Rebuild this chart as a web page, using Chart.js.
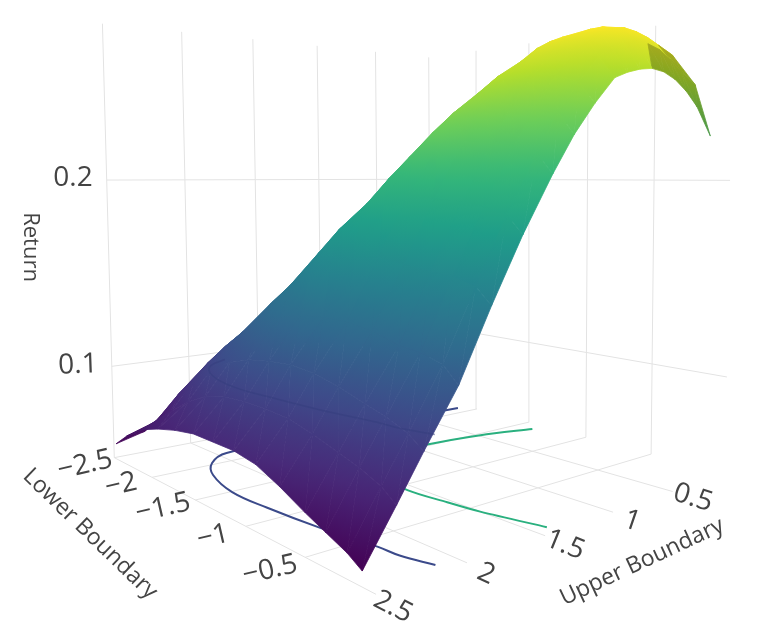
<!DOCTYPE html>
<html>
<head>
<meta charset="utf-8">
<title>Return surface</title>
<style>
html, body { margin: 0; background: #fff; }
canvas { display: block; }
</style>
<script src="https://cdn.jsdelivr.net/npm/chart.js@4"></script>
</head>
<body>
<canvas id="surfaceChart" width="761" height="640"></canvas>
<script>
'use strict';

const LOWER_VALUES = [-2.4, -2.25, -2.05, -1.85, -1.65, -1.45, -1.25, -1.05, -0.85, -0.65, -0.45, -0.3, -0.15, -0.05];
const UPPER_VALUES = [0.12, 0.25, 0.35, 0.45, 0.55, 0.65, 0.75, 0.85, 0.95, 1.1, 1.25, 1.4, 1.6, 1.8, 2.0, 2.2, 2.35, 2.53];

// one row per upper boundary, one column per lower boundary
const RETURN_ROWS = [
  [.079, .091, .110, .134, .161, .187, .214, .234, .250, .259, .265, .264, .248, .222],
  [.083, .096, .117, .141, .167, .193, .219, .241, .257, .268, .272, .268, .254, .236],
  [.086, .099, .121, .146, .172, .198, .224, .246, .262, .272, .275, .271, .259, .243],
  [.089, .102, .124, .150, .176, .202, .227, .248, .264, .273, .276, .273, .263, .248],
  [.091, .104, .126, .153, .179, .204, .228, .248, .264, .273, .276, .274, .265, .251],
  [.093, .106, .128, .155, .181, .206, .229, .248, .263, .272, .274, .273, .266, .252],
  [.095, .108, .130, .156, .182, .207, .229, .247, .260, .269, .271, .270, .264, .251],
  [.097, .110, .131, .157, .183, .207, .228, .245, .256, .265, .267, .266, .261, .249],
  [.098, .111, .132, .158, .183, .206, .226, .242, .252, .259, .261, .260, .256, .246],
  [.100, .113, .134, .158, .181, .202, .220, .234, .243, .248, .249, .248, .244, .234],
  [.101, .114, .134, .156, .177, .196, .212, .224, .231, .235, .235, .233, .230, .220],
  [.101, .114, .133, .153, .172, .188, .201, .211, .216, .218, .217, .215, .212, .203],
  [.100, .113, .129, .147, .162, .175, .184, .190, .193, .192, .191, .189, .186, .178],
  [.095, .108, .122, .135, .146, .155, .161, .164, .165, .163, .161, .160, .157, .150],
  [.087, .100, .111, .121, .128, .133, .136, .137, .137, .135, .131, .130, .127, .120],
  [.074, .085, .096, .104, .110, .114, .116, .117, .116, .113, .109, .106, .102, .097],
  [.064, .072, .081, .089, .095, .098, .099, .099, .098, .095, .091, .088, .084, .079],
  [.060, .067, .074, .078, .081, .083, .083, .083, .081, .076, .070, .066, .062, .058],
];

// facets of the far leg that are seen from below, as row-column-triangle
const UNDERSIDE_FACETS = ['0-11-a', '0-11-b', '1-11-a', '0-12-a', '0-12-b', '1-12-a', '1-12-b', '2-12-a', '2-12-b', '3-12-a', '3-12-b', '4-12-a'];

const LOWER_TICKS = [-2.5, -2, -1.5, -1, -0.5];
const UPPER_TICKS = [0.5, 1, 1.5, 2, 2.5];
const RETURN_TICKS = [0.1, 0.2];

const NAVY_LEVEL = 0.102;
const NAVY_LOWER = [-0.07, -0.25, -0.39, -0.75, -1.16, -1.49, -1.82, -2.03, -2.16, -2.15, -2.11];
const NAVY_UPPER = [2.12, 2.17, 2.18, 2.24, 2.28, 2.29, 2.22, 2.11, 1.94, 1.0, 0.08];
const GREEN_LOWER = [-0.07, -0.43, -0.64, -0.92, -1.3, -1.5, -1.52, -1.47, -1.36];
const GREEN_UPPER = [1.41, 1.5, 1.53, 1.56, 1.5, 1.25, 0.87, 0.48, 0.11];

const LOWER_MIN = -2.5, LOWER_MAX = 0;
const UPPER_MIN = 0, UPPER_MAX = 2.5;
const RETURN_MIN = 0.05, RETURN_MAX = 0.282;

const VIRIDIS = ['#440154', '#482878', '#3e4989', '#31688e', '#26828e', '#1f9e89', '#35b779', '#6ece58', '#b5de2b', '#fde725'];
const GRID_COLOR = '#e3e3e3';
const TEXT_COLOR = '#444';
const BACK_SHADE = 0.75;

// fitted to the reference: maps (lower, upper, return * 10) to the page
const CAMERA = [
  [58.22087, -182.04212, -6.73795, 723.81683],
  [-24.13042, -20.29202, -196.39952, 568.28772],
  [-0.137031, -0.115066, -0.013499, 1],
];

const LABELS = [
  { text: '0.2', x: 73, y: 178, angle: 0, size: 28 },
  { text: '0.1', x: 78, y: 365, angle: -2, size: 28 },
  { text: 'Return', x: 30, y: 247, angle: 90, size: 22 },
  { text: '\u22122.5', x: 85, y: 465, angle: -13, size: 28 },
  { text: '\u22122', x: 121, y: 485, angle: -13, size: 28 },
  { text: '\u22121.5', x: 163, y: 508, angle: -13, size: 28 },
  { text: '\u22121', x: 213, y: 537, angle: -13, size: 28 },
  { text: '\u22120.5', x: 270, y: 570, angle: -13, size: 28 },
  { text: '2.5', x: 393, y: 607, angle: 27, size: 28 },
  { text: '2', x: 486, y: 574, angle: 24, size: 28 },
  { text: '1.5', x: 565, y: 545, angle: 22, size: 28 },
  { text: '1', x: 632, y: 521, angle: 19, size: 28 },
  { text: '0.5', x: 693, y: 498, angle: 17, size: 28 },
  { text: 'Lower Boundary', x: 90, y: 534, angle: 44, size: 23 },
  { text: 'Upper Boundary', x: 642, y: 562, angle: -25, size: 23 },
];

function project(lower, upper, value) {
  const z = value * 10;
  const [a, b, c] = CAMERA;
  const w = c[0] * lower + c[1] * upper + c[2] * z + c[3];
  return {
    x: (a[0] * lower + a[1] * upper + a[2] * z + a[3]) / w,
    y: (b[0] * lower + b[1] * upper + b[2] * z + b[3]) / w,
    w,
  };
}

function hexToRgb(hex) {
  return [1, 3, 5].map(i => parseInt(hex.slice(i, i + 2), 16));
}

function viridisAt(t, shade) {
  const pos = Math.min(Math.max(t, 0), 1) * (VIRIDIS.length - 1);
  const i = Math.min(Math.floor(pos), VIRIDIS.length - 2);
  const a = hexToRgb(VIRIDIS[i]);
  const b = hexToRgb(VIRIDIS[i + 1]);
  const rgb = a.map((v, k) => (v + (b[k] - v) * (pos - i)) * shade);
  return `rgb(${rgb.map(Math.round).join(',')})`;
}

const surfaceValues = RETURN_ROWS.flat();
const surfaceMin = Math.min(...surfaceValues);
const surfaceMax = Math.max(...surfaceValues);

function lineDataset(points, color, width, tension) {
  return {
    data: points,
    showLine: true,
    borderColor: color,
    borderWidth: width,
    pointRadius: 0,
    tension: tension || 0,
    fill: false,
  };
}

function buildFacets() {
  const facets = [];
  const addFacet = (key, corners) => {
    const values = corners.map(([i, j]) => RETURN_ROWS[i][j]);
    const points = corners.map(([i, j]) => project(LOWER_VALUES[j], UPPER_VALUES[i], RETURN_ROWS[i][j]));
    const depth = points.reduce((sum, p) => sum + p.w, 0) / 3;
    const underside = UNDERSIDE_FACETS.includes(key);
    facets.push({ values, points, depth, underside });
  };
  for (let r = 0; r < UPPER_VALUES.length - 1; r++) {
    for (let c = 0; c < LOWER_VALUES.length - 1; c++) {
      addFacet(`${r}-${c}-a`, [[r, c], [r, c + 1], [r + 1, c + 1]]);
      addFacet(`${r}-${c}-b`, [[r, c], [r + 1, c + 1], [r + 1, c]]);
    }
  }
  // chart.js paints the first dataset last, so nearest facets go first
  return facets.sort((a, b) => a.depth - b.depth);
}

function buildGridDatasets() {
  const sets = [];
  const add = points => sets.push(lineDataset(points, GRID_COLOR, 1));
  for (const upper of UPPER_TICKS) {
    add([project(LOWER_MAX, upper, RETURN_MIN), project(LOWER_MIN, upper, RETURN_MIN), project(LOWER_MIN, upper, RETURN_MAX)]);
  }
  for (const lower of LOWER_TICKS) {
    add([project(lower, UPPER_MAX, RETURN_MIN), project(lower, UPPER_MIN, RETURN_MIN), project(lower, UPPER_MIN, RETURN_MAX)]);
  }
  for (const value of RETURN_TICKS) {
    add([project(LOWER_MIN, UPPER_MAX, value), project(LOWER_MIN, UPPER_MIN, value), project(LOWER_MAX, UPPER_MIN, value)]);
  }
  return sets;
}

function paintFacet(ctx, meta, facet) {
  const p = meta.data;
  const v = facet.values;
  const e1 = { x: p[1].x - p[0].x, y: p[1].y - p[0].y };
  const e2 = { x: p[2].x - p[0].x, y: p[2].y - p[0].y };
  const d1 = v[1] - v[0];
  const d2 = v[2] - v[0];
  const det = e1.x * e2.y - e1.y * e2.x;
  const shade = facet.underside ? BACK_SHADE : 1;
  const lo = Math.min(...v);
  const hi = Math.max(...v);
  const toT = value => (value - surfaceMin) / (surfaceMax - surfaceMin);

  let paint = viridisAt(toT((lo + hi) / 2), shade);
  if (Math.abs(det) > 0.5) {
    // colour follows return linearly across the triangle
    const gx = (d1 * e2.y - d2 * e1.y) / det;
    const gy = (e1.x * d2 - e2.x * d1) / det;
    const g2 = gx * gx + gy * gy;
    if (g2 > 0) {
      const grad = ctx.createLinearGradient(
        p[0].x + gx * (lo - v[0]) / g2, p[0].y + gy * (lo - v[0]) / g2,
        p[0].x + gx * (hi - v[0]) / g2, p[0].y + gy * (hi - v[0]) / g2);
      for (let s = 0; s <= 3; s++) {
        grad.addColorStop(s / 3, viridisAt(toT(lo + (hi - lo) * s / 3), shade));
      }
      paint = grad;
    }
  }

  ctx.save();
  ctx.beginPath();
  p.forEach((pt, i) => (i ? ctx.lineTo(pt.x, pt.y) : ctx.moveTo(pt.x, pt.y)));
  ctx.closePath();
  ctx.fillStyle = paint;
  ctx.strokeStyle = paint;
  ctx.lineWidth = 0.8;
  ctx.lineJoin = 'round';
  ctx.fill();
  ctx.stroke();
  ctx.restore();
}

const surfacePlugin = {
  id: 'surfacePaint',
  beforeDatasetDraw(chart, args) {
    const facet = chart.data.datasets[args.index].facet;
    if (facet) paintFacet(chart.ctx, args.meta, facet);
  },
  afterDraw(chart) {
    const { ctx, scales } = chart;
    ctx.save();
    ctx.fillStyle = TEXT_COLOR;
    ctx.textAlign = 'center';
    ctx.textBaseline = 'middle';
    for (const label of LABELS) {
      ctx.save();
      ctx.translate(scales.x.getPixelForValue(label.x), scales.y.getPixelForValue(label.y));
      ctx.rotate(label.angle * Math.PI / 180);
      ctx.font = `${label.size}px "Open Sans"`;
      ctx.fillText(label.text, 0, 0);
      ctx.restore();
    }
    ctx.restore();
  },
};

function buildDatasets() {
  const navyFloor = NAVY_LOWER.map((lower, i) => project(lower, NAVY_UPPER[i], RETURN_MIN));
  const greenFloor = GREEN_LOWER.map((lower, i) => project(lower, GREEN_UPPER[i], RETURN_MIN));
  const navyOnSurface = NAVY_LOWER.slice(0, 9).map((lower, i) => project(lower, NAVY_UPPER[i], NAVY_LEVEL));

  const surface = buildFacets().map(facet => ({
    ...lineDataset(facet.points, 'transparent', 0),
    facet,
  }));

  return [
    lineDataset(navyOnSurface, 'rgba(52, 62, 125, 0.55)', 1.5, 0.4),
    ...surface,
    lineDataset(navyFloor, '#3b4a8a', 2, 0.4),
    lineDataset(greenFloor, '#2ab07f', 2, 0.3),
    ...buildGridDatasets(),
  ];
}

new Chart(document.getElementById('surfaceChart'), {
  type: 'scatter',
  data: { datasets: buildDatasets() },
  options: {
    responsive: false,
    animation: false,
    events: [],
    layout: { padding: 0 },
    plugins: { legend: { display: false }, tooltip: { enabled: false } },
    scales: {
      x: { type: 'linear', display: false, min: 0, max: 761 },
      y: { type: 'linear', display: false, min: 0, max: 640, reverse: true },
    },
  },
  plugins: [surfacePlugin],
});
</script>
</body>
</html>
